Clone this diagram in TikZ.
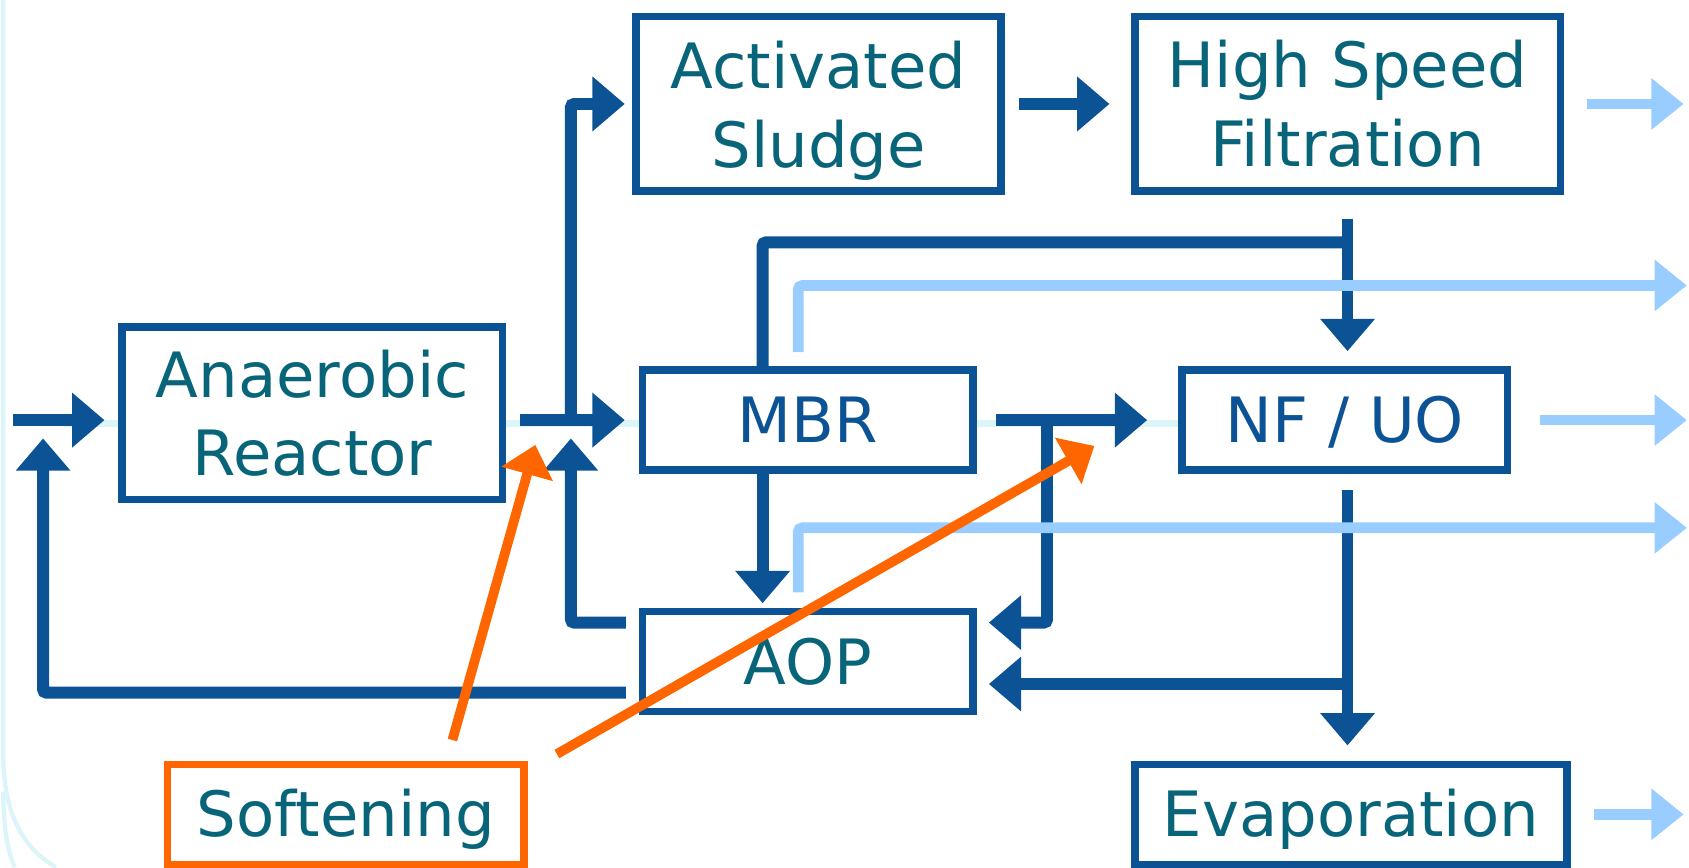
\documentclass[tikz,border=0pt]{standalone}
\usepackage{fontspec}
\setmainfont{DejaVu Sans}
\usetikzlibrary{arrows.meta}

\definecolor{boxblue}{HTML}{0B5394}
\definecolor{tealtext}{HTML}{086479}
\definecolor{lightblue}{HTML}{99CCFF}
\definecolor{softorange}{HTML}{FF6600}
\definecolor{pale}{HTML}{DBF5F8}

\begin{document}
\begin{tikzpicture}[x=0.5pt, y=-0.5pt,
	unit/.style = {draw=boxblue, line width=3.5pt, fill=white, text=tealtext, align=center, inner sep=0pt, font=\fontsize{29}{36.5}\selectfont},
	unitone/.style = {unit, minimum width=153.5pt, minimum height=46.5pt, text height=21pt, text depth=0pt},
	stream/.style = {boxblue, line width=5.5pt, rounded corners=1.5pt, -{Triangle[length=15pt, width=24.5pt]}},
	joint/.style = {boxblue, line width=5.5pt, rounded corners=1.5pt},
	effluent/.style = {lightblue, line width=5pt, rounded corners=2pt, -{Triangle[length=15pt, width=23pt]}},
	dosing/.style = {softorange, line width=4.5pt, -{Triangle[length=14pt, width=24pt]}},
	backdrop/.style = {pale, line width=2pt}]
	
	\useasboundingbox (0,0) rectangle (1568,805);
	
	%	background
	\draw[backdrop] (3,0) -- (3,700) .. controls (3,760) and (25,790) .. (52,805);
	\draw[backdrop] (3,735) .. controls (3,770) and (8,795) .. (14,805);
	\draw[pale, line width=3pt] (60,393) -- (1094,393);
	
	%	units
	\node[unit, minimum width=176.5pt, minimum height=80pt] (AR) at (290,383.5) {Anaerobic\\Reactor};
	\node[unit, minimum width=169.5pt, minimum height=81pt, text depth=0pt] (AS) at (760,96.5) {Activated\\Sludge};
	\node[unit, minimum width=197.5pt, minimum height=81pt] (HSF) at (1251,96.5) {High Speed\\Filtration};
	\node[unitone, text=boxblue] (MBR) at (750,390) {MBR};
	\node[unitone, text=boxblue, minimum width=151pt] (NF) at (1248.5,390) {NF / UO};
	\node[unitone] (AOP) at (750,614) {AOP};
	\node[unitone, draw=softorange, minimum width=165.5pt] (Soft) at (321,756) {Softening};
	\node[unitone, minimum width=200.5pt] (Evap) at (1254,756) {Evaporation};
	
	%	free ends
	\coordinate (in) at (12,390);
	\coordinate (back) at (40,407);
	\coordinate (split) at (530,390);
	\coordinate (tee) at (972,390);
	\coordinate (hsfout) at (1563,96.5);
	\coordinate (mbrout) at (1566,265);
	\coordinate (nfout) at (1566,390);
	\coordinate (aopout) at (1566,490);
	\coordinate (evout) at (1563,756);
	
	%	main line
	\draw[stream] (in) -- ([xshift=-6.5pt]AR.west |- in);
	\draw[stream] ([xshift=6.5pt]AR.east |- MBR.west) -- ([xshift=-6.5pt]MBR.west);
	\draw[stream] (split) |- ([xshift=-3.5pt]AS.west);
	\draw[stream] ([xshift=6.5pt]AS.east) -- ([xshift=-10pt]HSF.west);
	\draw[stream] ([xshift=9pt]MBR.east) -- ([xshift=-14.5pt]NF.west);
	
	%	recycles
	\draw[stream] ([shift={(-6pt,18pt)}]AOP.west) -| ([yshift=-8.5pt]split);
	\draw[stream] ([shift={(-6pt,-14.5pt)}]AOP.west) -| (back);
	\draw[stream] (tee) |- ([shift={(5.5pt,18pt)}]AOP.east);
	\draw[stream] ([xshift=-21pt]MBR.south) -- ([shift={(-21pt,2pt)}]AOP.north);
	
	%	NF / UO and evaporation
	\draw[stream] ([yshift=-11pt]HSF.south) -- ([yshift=7pt]NF.north -| HSF.south);
	\draw[joint] ([xshift=-21pt]MBR.north) |- ([yshift=-22pt]HSF.south);
	\draw[stream] ([yshift=-7.5pt]NF.south -| HSF.south) -- ([yshift=7pt]Evap.north -| HSF.south);
	\draw[stream] ([yshift=-10.5pt]AOP.east -| HSF.south) -- ([shift={(5.5pt,-10.5pt)}]AOP.east);
	
	%	effluents
	\draw[effluent] ([xshift=10.5pt]HSF.east) -- (hsfout);
	\draw[effluent] ([shift={(-4.5pt,6.5pt)}]MBR.north) |- (mbrout);
	\draw[effluent] ([xshift=13.5pt]NF.east) -- (nfout);
	\draw[effluent] ([shift={(-4.5pt,7pt)}]AOP.north) |- (aopout);
	\draw[effluent] ([xshift=11pt]Evap.east) -- (evout);
	
	%	softening
	\draw[dosing] ([shift={(49.5pt,9.5pt)}]Soft.north) -- ([shift={(13.5pt,27pt)}]AR.south east);
	\draw[dosing] ([shift={(13.5pt,3pt)}]Soft.north east) -- ([shift={(-39pt,-12pt)}]NF.west);
\end{tikzpicture}
\end{document}
